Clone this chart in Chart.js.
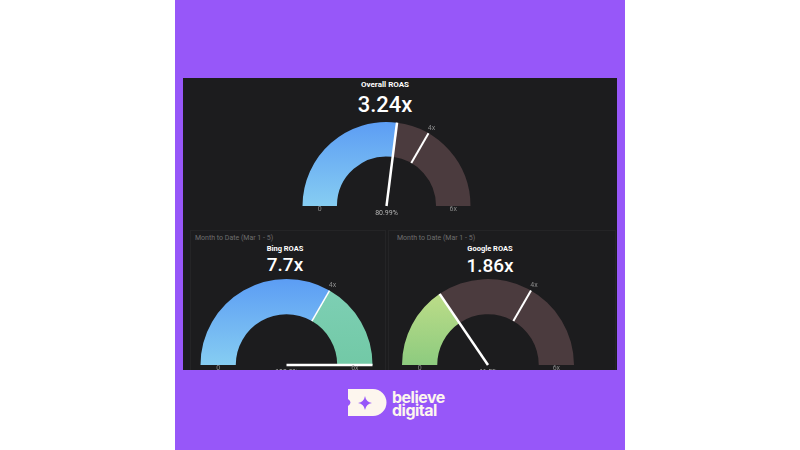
<!DOCTYPE html>
<html>
<head>
<meta charset="utf-8">
<script src="https://cdn.jsdelivr.net/npm/chart.js@4.4.1/dist/chart.umd.min.js"></script>
<style>
  body { margin: 0; background: #fff; width: 800px; height: 450px; overflow: hidden; font-family: Roboto, 'Noto Sans', sans-serif; }
  #frame { position: absolute; left: 175px; top: 0; width: 450px; height: 450px; background: #9757f9; }
  #board { position: absolute; left: 183px; top: 78px; width: 434px; height: 292px; background: #1c1c1e; overflow: hidden; }
  .pane { position: absolute; border: 1px solid rgba(255,255,255,0.04); box-sizing: border-box; }
  .title { position: absolute; width: 200px; margin-left: -100px; text-align: center; color: #fff; font-weight: bold; line-height: 1; white-space: nowrap; }
  .value { position: absolute; width: 200px; margin-left: -100px; text-align: center; color: #fff; font-weight: 500; line-height: 1; white-space: nowrap; }
  .sub { position: absolute; color: #6e6e6e; font-size: 7px; line-height: 1; white-space: nowrap; }
  canvas { position: absolute; }
  .logo { position: absolute; left: 392px; color: #fdf6ee; font-family: Inter, sans-serif; font-weight: bold; font-size: 16px; line-height: 12px; height: 12px; letter-spacing: -0.5px; white-space: nowrap; }
</style>
</head>
<body>
<div id="frame"></div>
<div id="board">
  <div class="pane" style="left:7px;top:152px;width:196px;height:150px"></div>
  <div class="pane" style="left:205px;top:152px;width:228px;height:150px"></div>

  <div class="title" id="t0" style="left:202px;top:3px;font-size:8px"></div>
  <div class="value" id="v0" style="left:202px;top:16px;font-size:22px"></div>
  <canvas id="g0" width="213" height="112" style="left:97px;top:32px;width:213px;height:112px"></canvas>

  <div class="sub" id="s1" style="left:12px;top:157px"></div>
  <div class="title" id="t1" style="left:102px;top:167px;font-size:7.5px"></div>
  <div class="value" id="v1" style="left:102px;top:177px;font-size:19px"></div>
  <canvas id="g1" width="194" height="104" style="left:7px;top:190px;width:194px;height:104px"></canvas>

  <div class="sub" id="s2" style="left:214px;top:157px"></div>
  <div class="title" id="t2" style="left:307px;top:167px;font-size:7.5px"></div>
  <div class="value" id="v2" style="left:307px;top:178px;font-size:19px"></div>
  <canvas id="g2" width="194" height="104" style="left:208px;top:190px;width:194px;height:104px"></canvas>
</div>

<svg style="position:absolute;left:348px;top:389px" width="40" height="27" viewBox="0 0 40 27">
  <path d="M0 0 H25 A13.5 13.5 0 0 1 25 27 H0 V17 Q5 13.5 0 10 Z" fill="#fdf6ee"/>
  <path d="M17 7 Q18 13 24 14 Q18 15 17 21 Q16 15 10 14 Q16 13 17 7 Z" fill="#9757f9"/>
</svg>
<div class="logo" style="top:391px">believe</div>
<div class="logo" style="top:404px">digital</div>

<script>
// gauge data
const gaugeNames = ['Overall ROAS', 'Bing ROAS', 'Google ROAS']
const roasValues = [3.24, 7.7, 1.86]
const roasText = ['3.24x', '7.7x', '1.86x']
const pctOfTarget = ['80.99%', '192.5%', '46.5%']
const targetRoas = 4
const maxRoas = 6
const scaleLabels = ['0', '4x', '6x']
const periodLabel = 'Month to Date (Mar 1 - 5)'

// arc segments (filled part, rest of the scale)
const overallSegments = [3.24, 2.76]
const bingSegments = [4, 2]
const googleSegments = [1.86, 4.14]

// text
gaugeNames.forEach((name, i) => {
    document.getElementById('t' + i).textContent = name
    document.getElementById('v' + i).textContent = roasText[i]
})
document.getElementById('s1').textContent = periodLabel
document.getElementById('s2').textContent = periodLabel

// colour per segment, [top, bottom] pairs become a vertical gradient
function segmentColors(list) {
    return function(ctx) {
        const col = list[ctx.dataIndex]
        if (typeof col === 'string') return col
        const area = ctx.chart.chartArea
        if (!area) return col[0]
        const g = ctx.chart.ctx.createLinearGradient(0, area.top, 0, area.bottom)
        g.addColorStop(0, col[0])
        g.addColorStop(1, col[1])
        return g
    }
}

// needle, target tick and labels
const gaugeMarks = {
    id: 'gaugeMarks',
    afterDatasetsDraw(chart, args, opts) {
        const arc = chart.getDatasetMeta(0).data[0]
        const { x, y, innerRadius, outerRadius } = arc.getProps(['x', 'y', 'innerRadius', 'outerRadius'], true)
        const c = chart.ctx
        const ang = v => Math.PI + Math.min(v, maxRoas) / maxRoas * Math.PI

        c.save()
        c.strokeStyle = '#fff'

        // target tick
        const t = ang(targetRoas)
        c.lineWidth = opts.tickWidth
        c.beginPath()
        c.moveTo(x + Math.cos(t) * innerRadius, y + Math.sin(t) * innerRadius)
        c.lineTo(x + Math.cos(t) * outerRadius, y + Math.sin(t) * outerRadius)
        c.stroke()

        // needle
        const n = ang(opts.value)
        c.lineWidth = 2.5
        c.beginPath()
        c.moveTo(x, y)
        c.lineTo(x + Math.cos(n) * outerRadius, y + Math.sin(n) * outerRadius)
        c.stroke()

        // labels
        const mid = (innerRadius + outerRadius) / 2
        c.font = '7px Roboto'
        c.textAlign = 'center'
        c.textBaseline = 'middle'
        c.fillStyle = '#8c8c8c'
        c.fillText(scaleLabels[0], x - mid, y + 3.5)
        c.fillText(scaleLabels[2], x + mid, y + 3.5)
        c.fillText(scaleLabels[1], x + Math.cos(t) * (outerRadius + 6), y + Math.sin(t) * (outerRadius + 6))
        c.fillStyle = '#b5b5b5'
        c.fillText(opts.pct, x, y + 7.5)
        c.restore()
    }
}

function makeGauge(id, segments, colors, i, pad, tickWidth) {
    new Chart(document.getElementById(id), {
        type: 'doughnut',
        data: {
            labels: ['value', 'rest'],
            datasets: [{
                data: segments,
                backgroundColor: segmentColors(colors),
                borderWidth: 0
            }]
        },
        options: {
            responsive: false,
            animation: false,
            rotation: -90,
            circumference: 180,
            cutout: '59%',
            layout: { padding: pad },
            plugins: {
                legend: { display: false },
                tooltip: { enabled: false },
                gaugeMarks: { value: roasValues[i], pct: pctOfTarget[i], tickWidth: tickWidth }
            }
        },
        plugins: [gaugeMarks]
    })
}

const blue = ['#5c9df4', '#86cdf2']
const brown = '#4b3b3e'

makeGauge('g0', overallSegments, [blue, brown], 0, { left: 22.5, right: 22.5, top: 12, bottom: 16 }, 2)
makeGauge('g1', bingSegments, [blue, ['#7fd0b6', '#72c9a6']], 1, { left: 10.5, right: 11.5, top: 11, bottom: 7 }, 1.5)
makeGauge('g2', googleSegments, [['#c6e08a', '#8dcb7f'], brown], 2, { left: 11, right: 11, top: 11, bottom: 7 }, 2)
</script>
</body>
</html>
